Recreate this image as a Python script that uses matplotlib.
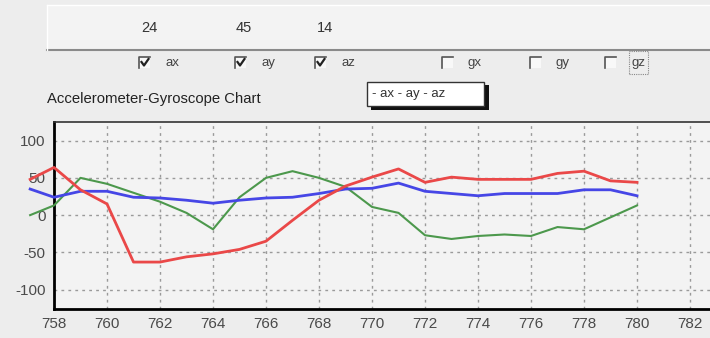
import matplotlib
matplotlib.use("Agg")
import matplotlib.pyplot as plt
from matplotlib.lines import Line2D
from matplotlib.patches import Rectangle

# ---- data ----
x_vals = [757.1, 758, 759, 760, 761, 762, 763, 764, 765, 766, 767, 768, 769,
          770, 771, 772, 773, 774, 775, 776, 777, 778, 779, 780]
ax_vals = [48, 64, 34, 15, -63, -63, -56, -52, -46, -35, -7, 20, 39,
           51, 62, 44, 51, 48, 48, 48, 56, 59, 46, 44]
ay_vals = [35, 24, 32, 32, 24, 23, 20, 16, 20, 23, 24, 29, 35,
           36, 43, 32, 29, 26, 29, 29, 29, 34, 34, 26]
az_vals = [0, 13, 50, 42, 30, 18, 3, -19, 24, 50, 59, 50, 38,
           11, 3, -27, -32, -28, -26, -28, -16, -19, -3, 13]
x_ticks = [758, 760, 762, 764, 766, 768, 770, 772, 774, 776, 778, 780, 782]
y_ticks = [-100, -50, 0, 50, 100]
readouts = ["24", "45", "14"]
channels = ["ax", "ay", "az", "gx", "gy", "gz"]
checked = [True, True, True, False, False, False]
chart_title = "Accelerometer-Gyroscope Chart"
legend_text = "- ax - ay - az"

W, H = 710, 338
plt.rcParams['font.family'] = ['Liberation Sans', 'DejaVu Sans']
plt.rcParams['axes.unicode_minus'] = False
fig = plt.figure(figsize=(W / 100, H / 100), dpi=100)
fig.patch.set_facecolor('#ededed')

def P(x, y):
    return (x / W, 1 - y / H)

# top panel
fig.patches.append(Rectangle(P(47, 50), (W - 47) / W, 45 / H, transform=fig.transFigure,
                             facecolor='#f3f3f3', edgecolor='none'))
fig.lines.append(Line2D([47 / W, 1], [1 - 5 / H] * 2, transform=fig.transFigure, color='#ffffff', lw=1))
fig.lines.append(Line2D([47 / W, 1], [1 - 50 / H] * 2, transform=fig.transFigure, color='#8a8a8a', lw=1.5))
fig.lines.append(Line2D([47 / W, 47 / W], [1 - 5 / H, 1 - 50 / H], transform=fig.transFigure, color='#ffffff', lw=1))

for txt, xp in zip(readouts, [149, 244, 325]):
    fig.text(*P(xp, 28), txt, ha='center', va='center', fontsize=10.5, color='#333333')

box_x = [139, 235, 315, 442, 530, 605]
text_x = [165, 262, 342, 468, 555, 632]
for name, bx, tx, chk in zip(channels, box_x, text_x, checked):
    # sunken box: dark top and left edges
    fig.lines.append(Line2D([bx / W, bx / W, (bx + 11) / W], [1 - 68 / H, 1 - 57 / H, 1 - 57 / H],
                            transform=fig.transFigure, color='#555555', lw=1.2))
    fig.patches.append(Rectangle(P(bx + 1, 68), 10 / W, 10 / H, transform=fig.transFigure,
                                 facecolor='#f8f8f8', edgecolor='none'))
    if chk:
        fig.lines.append(Line2D([(bx + 2.5) / W, (bx + 5) / W, (bx + 9.5) / W],
                                [1 - 62 / H, 1 - 65.5 / H, 1 - 59 / H],
                                transform=fig.transFigure, color='#222222', lw=1.6))
    fig.text(*P(tx, 63), name, ha='left', va='center', fontsize=9.5, color='#444444')
# focus rectangle around gz
fig.patches.append(Rectangle(P(629, 74), 19 / W, 23 / H, transform=fig.transFigure,
                             facecolor='none', edgecolor='#888888', lw=0.8, ls=(0, (1, 1))))

fig.text(*P(47, 99), chart_title, ha='left', va='center', fontsize=10.7, color='#222222')

# legend box with shadow
fig.patches.append(Rectangle(P(371, 110), 118 / W, 25 / H, transform=fig.transFigure,
                             facecolor='#111111', edgecolor='none'))
fig.patches.append(Rectangle(P(367, 106), 117 / W, 24 / H, transform=fig.transFigure,
                             facecolor='#ffffff', edgecolor='#333333', lw=1))
fig.text(*P(372, 94), legend_text, ha='left', va='center', fontsize=9.5, color='#333333')

# ---- chart ----
left, right, top, bottom = 54, 710, 122, 309
ax = fig.add_axes([left / W, 1 - bottom / H, (right - left) / W, (bottom - top) / H])
ax.set_facecolor('#f3f3f3')
ax.set_xlim(758, 758 + (right - left) / 26.5)
ax.set_ylim(-126, 125)
ax.set_xticks(x_ticks)
ax.set_yticks(y_ticks)
ax.tick_params(axis='both', length=0, labelsize=11, labelcolor='#4a4a4a', pad=6)
ax.grid(True, color='#9a9a9a', linestyle=(0, (2, 3)), lw=1)
ax.spines['right'].set_visible(False)
ax.spines['left'].set_linewidth(2)
ax.spines['bottom'].set_linewidth(2)
ax.spines['top'].set_linewidth(1.2)
ax.spines['top'].set_color('#333333')

ax.plot(x_vals, az_vals, color='#4c984c', lw=1.5, clip_on=False, zorder=3)
ax.plot(x_vals, ay_vals, color='#4646e6', lw=2, clip_on=False, zorder=4)
ax.plot(x_vals, ax_vals, color='#ea4848', lw=2, clip_on=False, zorder=5)

fig.savefig("out.png", dpi=100, facecolor=fig.get_facecolor())
